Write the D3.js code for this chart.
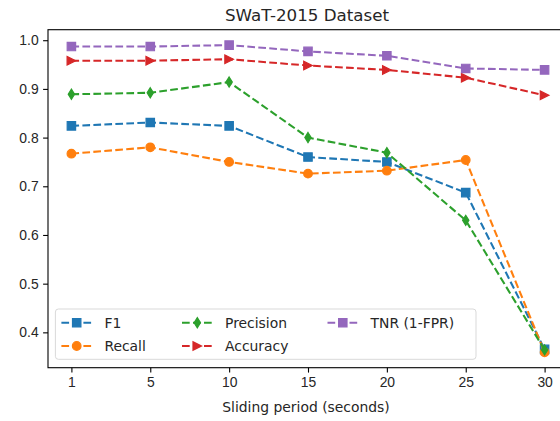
<!DOCTYPE html>
<html>
<head>
<meta charset="utf-8">
<script src="https://cdn.jsdelivr.net/npm/d3@7"></script>
<style>
  body { margin: 0; background: #fff; }
  svg { display: block; font-family: "DejaVu Sans", sans-serif; }
</style>
</head>
<body>
<svg id="chart" width="560" height="421"></svg>
<script>
// Sliding period categories and metric values
const periods = ["1", "5", "10", "15", "20", "25", "30"];
const f1        = [0.824, 0.831, 0.824, 0.760, 0.750, 0.687, 0.365];
const recall    = [0.767, 0.780, 0.750, 0.726, 0.732, 0.754, 0.359];
const precision = [0.889, 0.892, 0.914, 0.800, 0.769, 0.630, 0.364];
const accuracy  = [0.958, 0.958, 0.961, 0.948, 0.939, 0.923, 0.887];
const tnr       = [0.987, 0.987, 0.990, 0.977, 0.968, 0.942, 0.939];
const yTicks = [0.4, 0.5, 0.6, 0.7, 0.8, 0.9, 1.0];

const series = [
  { name: "F1",          values: f1,        color: "#1f77b4", marker: "square" },
  { name: "Recall",      values: recall,    color: "#ff7f0e", marker: "circle" },
  { name: "Precision",   values: precision, color: "#2ca02c", marker: "thinDiamond" },
  { name: "Accuracy",    values: accuracy,  color: "#d62728", marker: "triRight" },
  { name: "TNR (1-FPR)", values: tnr,       color: "#9467bd", marker: "square" }
];

const svg = d3.select("#chart");
const plot = { left: 48, right: 568, top: 29.7, bottom: 367.7 };

const x = d3.scalePoint().domain(periods).range([71.4, 544.6]);
const y = d3.scaleLinear().domain([0.3274, 1.0216]).range([plot.bottom, plot.top]);

// Marker shapes (path centred at 0,0)
function markerPath(kind, s) {
  const h = s / 2;
  switch (kind) {
    case "square": return `M${-h},${-h}H${h}V${h}H${-h}Z`;
    case "circle": return `M${h},0A${h},${h} 0 1,1 ${-h},0A${h},${h} 0 1,1 ${h},0Z`;
    case "thinDiamond": { const w = h * 0.62; return `M0,${-h}L${w},0L0,${h}L${-w},0Z`; }
    case "triRight": return `M${h},0L${-h},${-h}L${-h},${h}Z`;
  }
}
const markerSize = { square: 8.4, circle: 8.6, thinDiamond: 10.2, triRight: 8.6 };

// Clip region for the plotting area
svg.append("defs").append("clipPath").attr("id", "plotClip")
  .append("rect").attr("x", plot.left).attr("y", plot.top - 8)
  .attr("width", plot.right - plot.left + 10).attr("height", plot.bottom - plot.top + 16);

const g = svg.append("g");

// Lines and markers
const line = d3.line().x((d, i) => x(periods[i])).y(d => y(d));
series.forEach(s => {
  const sg = g.append("g");
  sg.append("path")
    .attr("d", line(s.values))
    .attr("fill", "none")
    .attr("stroke", s.color)
    .attr("stroke-width", 2.08)
    .attr("stroke-dasharray", "7.7,3.3");
  sg.selectAll("path.mk").data(s.values).enter().append("path")
    .attr("class", "mk")
    .attr("transform", (d, i) => `translate(${x(periods[i])},${y(d)})`)
    .attr("d", markerPath(s.marker, markerSize[s.marker]))
    .attr("fill", s.color)
    .attr("stroke", s.color)
    .attr("stroke-width", 1.2)
    .attr("stroke-linejoin", "miter");
});

// Axes
const yAxis = d3.axisLeft(y).tickValues(yTicks).tickFormat(d3.format(".1f"))
  .tickSize(4.9).tickPadding(4.5);
const yg = svg.append("g").attr("transform", `translate(${plot.left},0)`).call(yAxis);
const xAxis = d3.axisBottom(x).tickSize(4.9).tickPadding(4.5);
const xg = svg.append("g").attr("transform", `translate(0,${plot.bottom})`).call(xAxis);
[yg, xg].forEach(a => {
  a.select(".domain").remove();
  a.selectAll(".tick line").attr("stroke", "#000").attr("stroke-width", 1.1);
  a.selectAll(".tick text").attr("fill", "#262626").style("font-size", "13.9px");
});

// Spines
svg.append("rect")
  .attr("x", plot.left).attr("y", plot.top)
  .attr("width", plot.right - plot.left).attr("height", plot.bottom - plot.top)
  .attr("fill", "none").attr("stroke", "#000").attr("stroke-width", 1.1);

// Title and axis label
svg.append("text").attr("x", 307).attr("y", 21)
  .attr("text-anchor", "middle").style("font-size", "16.7px").attr("fill", "#262626")
  .text("SWaT-2015 Dataset");
svg.append("text").attr("x", 306).attr("y", 412)
  .attr("text-anchor", "middle").style("font-size", "13.9px").attr("fill", "#262626")
  .text("Sliding period (seconds)");

// Legend
const legend = svg.append("g");
legend.append("rect")
  .attr("x", 55.4).attr("y", 309).attr("width", 420.6).attr("height", 50.3)
  .attr("rx", 3).attr("fill", "#fff").attr("fill-opacity", 0.8)
  .attr("stroke", "#d9d9d9").attr("stroke-width", 1);
const colX = [61.4, 182, 327.5];
const rowY = [322.7, 346];
series.forEach((s, i) => {
  const cx = colX[Math.floor(i / 2)], cy = rowY[i % 2];
  const item = legend.append("g");
  item.append("line")
    .attr("x1", cx).attr("x2", cx + 30.6).attr("y1", cy).attr("y2", cy)
    .attr("stroke", s.color).attr("stroke-width", 2.08).attr("stroke-dasharray", "7.7,3.3");
  item.append("path")
    .attr("transform", `translate(${cx + 15.3},${cy})`)
    .attr("d", markerPath(s.marker, markerSize[s.marker]))
    .attr("fill", s.color).attr("stroke", s.color).attr("stroke-width", 1.2);
  item.append("text")
    .attr("x", cx + 43).attr("y", cy).attr("dy", "0.36em")
    .style("font-size", "13.9px").attr("fill", "#262626")
    .text(s.name);
});
</script>
</body>
</html>
